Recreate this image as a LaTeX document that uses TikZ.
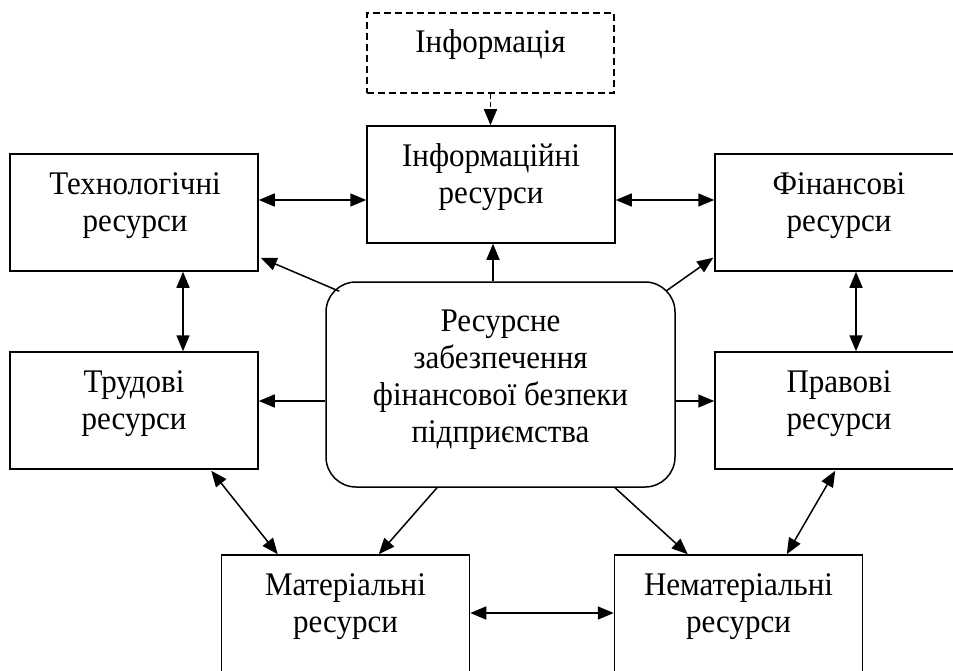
\documentclass[tikz,border=0pt]{standalone}
\usepackage{fontspec}
\setmainfont{Liberation Serif}[FakeStretch=0.94]
\usetikzlibrary{arrows.meta,calc}
\begin{document}
\begin{tikzpicture}[x=1pt,y=-1pt,
  box/.style={draw, line width=1.5pt, minimum width=248pt, minimum height=117pt, inner sep=0pt},
  lbl/.style={anchor=north, inner sep=0pt, align=center, font=\fontsize{33}{37}\selectfont},
  arr/.style={line width=1.5pt, -{Triangle[length=16pt,width=13pt]}},
  dbl/.style={line width=1.5pt, {Triangle[length=16pt,width=13pt]}-{Triangle[length=16pt,width=13pt]}}]
\useasboundingbox (0,0) rectangle (953,671);
\clip (0,0) rectangle (953,671);
% boxes
\node[box, dash pattern=on 7pt off 4pt, minimum width=247pt, minimum height=80pt] (info) at (490.5,53) {};
\node[box] (infres) at (491,184.5) {};
\node[box] (tech) at (134,212.5) {};
\node[box] (fin) at (839,212.5) {};
\node[box] (trud) at (134,410.5) {};
\node[box] (prav) at (839,410.5) {};
\node[box] (mat) at (345.5,613.5) {};
\node[box] (nemat) at (738.5,613.5) {};
\node[draw, line width=1.5pt, rounded corners=30pt, minimum width=349pt, minimum height=205pt, inner sep=0pt] (c) at (500.5,384.5) {};
% labels
\node[lbl] (infot) at ($(info.north)+(0,17)$) {\rule{0pt}{23pt}Інформація};
\node[lbl] (infrest) at ($(infres.north)+(0,18)$) {\rule{0pt}{23pt}Інформаційні\\ресурси};
\node[lbl] (techt) at ($(tech.north)+(1,18)$) {\rule{0pt}{23pt}Технологічні\\ресурси};
\node[lbl] (fint) at ($(fin.north)+(0,18)$) {\rule{0pt}{23pt}Фінансові\\ресурси};
\node[lbl] (trudt) at ($(trud.north)+(0,18)$) {\rule{0pt}{23pt}Трудові\\ресурси};
\node[lbl] (pravt) at ($(prav.north)+(0,18)$) {\rule{0pt}{23pt}Правові\\ресурси};
\node[lbl] (matt) at ($(mat.north)+(0,18)$) {\rule{0pt}{23pt}Матеріальні\\ресурси};
\node[lbl] (nematt) at ($(nemat.north)+(0,18)$) {\rule{0pt}{23pt}Нематеріальні\\ресурси};
\node[lbl] (ct) at ($(c.north)+(0,27)$) {\rule{0pt}{23pt}Ресурсне\\забезпечення\\фінансової безпеки\\підприємства};
% connectors
\draw[arr, dash pattern=on 5pt off 3pt] (info.south) -- (info.south |- infres.north);
\draw[arr] ($(c.north)+(-7.5,0)$) -- ($(infres.south)+(2,0)$);
\draw[dbl] (tech.east |- 0,200) -- (infres.west |- 0,200);
\draw[dbl] (infres.east |- 0,200) -- (fin.west |- 0,200);
\draw[arr] ($(c.north west)+(14,10)$) -- ($(tech.south east)+(2,-14)$);
\draw[arr] ($(c.north east)+(-10,10)$) -- ($(fin.south west)+(-1,-14)$);
\draw[dbl] (tech.south -| 183,0) -- (trud.north -| 183,0);
\draw[dbl] (fin.south -| 856,0) -- (prav.north -| 856,0);
\draw[arr] (c.west |- 0,401) -- (trud.east |- 0,401);
\draw[arr] (c.east |- 0,401) -- (prav.west |- 0,401);
\draw[dbl] ($(trud.south west)+(202,1)$) -- ($(mat.north west)+(57,0)$);
\draw[arr] ($(c.south)+(-63.5,0)$) -- ($(mat.north west)+(158,0)$);
\draw[arr] ($(c.south)+(114.5,0)$) -- ($(nemat.north west)+(74,0)$);
\draw[dbl] ($(prav.south west)+(121,1)$) -- ($(nemat.north west)+(173,0)$);
\draw[dbl] (mat.east |- 0,613) -- (nemat.west |- 0,613);
\end{tikzpicture}
\end{document}
